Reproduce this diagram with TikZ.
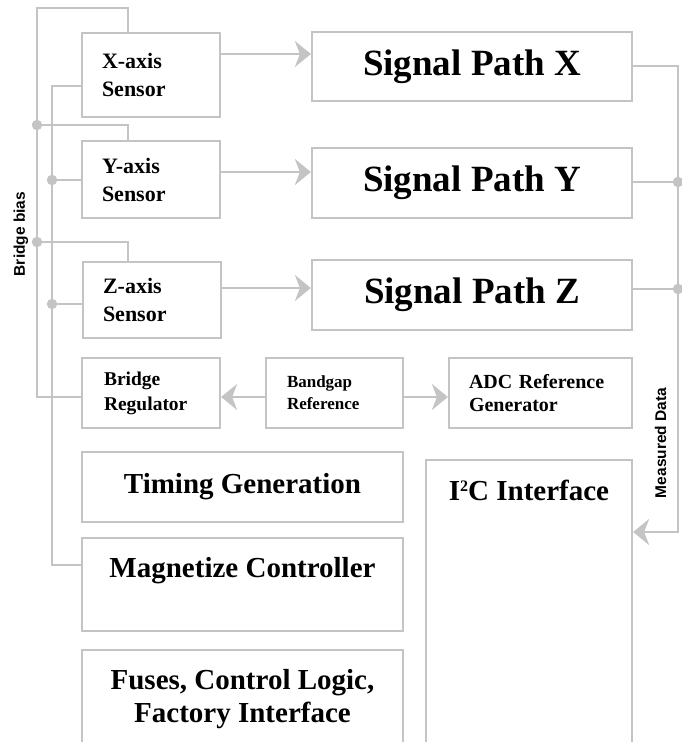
\documentclass[tikz,border=0pt]{standalone}
\usepackage{fontspec}
\setmainfont{Liberation Serif}
\newfontfamily\labelfont{Liberation Sans}
\usetikzlibrary{arrows.meta}
\definecolor{wiregray}{RGB}{196,196,196}
\begin{document}
\begin{tikzpicture}[x=1pt,y=-1pt,
  box/.style={draw=wiregray, line width=2.2pt, rectangle, inner sep=0pt, text=black},
  leftbox/.style={box, align=left},
  wire/.style={draw=wiregray, line width=2.2pt},
  flow/.style={wire, -{Stealth[length=16pt,width=26pt,inset=5pt,fill=wiregray]}},
  jdot/.style={circle, fill=wiregray, draw=none, inner sep=0pt, minimum size=10.5pt},
  sidelabel/.style={font=\labelfont\fontsize{15.5}{18}\selectfont\bfseries, rotate=90, inner sep=0pt},
  bigtext/.style={font=\fontsize{29}{33.5}\selectfont\bfseries, inner sep=0pt, align=center},
  pathtext/.style={font=\fontsize{37}{42}\selectfont\bfseries}
]
\useasboundingbox (0,0) rectangle (682,742);
\clip (0,0) rectangle (682,742);

% sensors
\node[leftbox, minimum width=138pt, minimum height=84pt, inner xsep=20pt, text width=98pt,
  font=\fontsize{22}{28}\selectfont\bfseries] (xs) at (151,75) {X-axis\\Sensor};
\node[leftbox, minimum width=138pt, minimum height=77pt, inner xsep=20pt, text width=98pt,
  font=\fontsize{22}{28}\selectfont\bfseries] (ys) at (151,179.5) {Y-axis\\Sensor};
\node[leftbox, minimum width=138pt, minimum height=76pt, inner xsep=20pt, text width=98pt,
  font=\fontsize{22}{28}\selectfont\bfseries] (zs) at (152,300) {Z-axis\\Sensor};

% signal paths
\node[box, pathtext, minimum width=320pt, minimum height=69pt] (sx) at (472,66.5) {Signal Path X};
\node[box, pathtext, minimum width=320pt, minimum height=70pt] (sy) at (472,183) {Signal Path Y};
\node[box, pathtext, minimum width=320pt, minimum height=70pt] (sz) at (472,295) {Signal Path Z};

% reference row
\node[leftbox, minimum width=138pt, minimum height=70pt, inner xsep=22pt, text width=94pt,
  font=\fontsize{19.5}{25}\selectfont\bfseries] (br) at (151,393) {Bridge\\Regulator};
\node[leftbox, minimum width=137pt, minimum height=70pt, inner xsep=21pt, text width=95pt,
  font=\fontsize{17}{22}\selectfont\bfseries] (bg) at (334.5,393) {Bandgap\\Reference};
\node[leftbox, minimum width=183pt, minimum height=70pt, inner xsep=20pt, text width=143pt,
  font=\fontsize{20}{23}\selectfont\bfseries] (adc) at (540.5,393) {ADC Reference\\Generator};

% lower blocks
\node[box, bigtext, minimum width=321pt, minimum height=70pt] (tg) at (242.5,487) {Timing Generation};
\node[box, minimum width=321pt, minimum height=93pt] (mc) at (242.5,584.5) {};
\node[box, minimum width=321pt, minimum height=120pt] (fu) at (242.5,710) {};
\node[box, minimum width=206pt, minimum height=310pt] (ic) at (529,615) {};
\node[bigtext, anchor=base] (mct) at (242.5,577) {Magnetize Controller};
\node[bigtext, anchor=north] (fut) at (242.5,669) {Fuses, Control Logic,\\Factory Interface};
\node[bigtext, anchor=base] (ict) at (529,500) {I\raisebox{9pt}{\fontsize{16}{16}\selectfont 2}C Interface};

% side labels
\node[sidelabel] (bb) at (21,234) {Bridge bias};
\node[sidelabel] (md) at (660.5,443) {Measured Data};

% corners and junctions
\coordinate (ct1) at (37,8);
\coordinate (ct2) at (128,8);
\coordinate (cbr) at (37,397);
\coordinate (cit) at (52,86);
\coordinate (cib) at (52,565);
\coordinate (crt) at (678,66);
\coordinate (crb) at (678,532);
\coordinate (rx) at (0,54);
\coordinate (ry) at (0,172);
\coordinate (rz) at (0,288);
\coordinate (jl1) at (37,125);
\coordinate (jl2) at (37,242);
\coordinate (ji1) at (52,180);
\coordinate (ji2) at (52,304);
\coordinate (jr1) at (678,182);
\coordinate (jr2) at (678,289);

% bridge bias wiring (outer)
\draw[wire] (xs.north -| ct2) -- (ct2) -- (ct1) -- (cbr) -- (br.west |- cbr);
\draw[wire] (jl1) -- (jl1 -| ct2) -- (ys.north -| ct2);
\draw[wire] (jl2) -- (jl2 -| ct2) -- (zs.north -| ct2);
% inner wiring
\draw[wire] (xs.west |- cit) -- (cit) -- (cib) -- (mc.west |- cib);
\draw[wire] (ji1) -- (ys.west |- ji1);
\draw[wire] (ji2) -- (zs.west |- ji2);

% sensor to signal path
\draw[flow] (xs.east |- rx) -- (sx.west |- rx);
\draw[flow] (ys.east |- ry) -- (sy.west |- ry);
\draw[flow] (zs.east |- rz) -- (sz.west |- rz);

% measured data
\draw[flow] (sx.east |- crt) -- (crt) -- (crb) -- (ic.east |- crb);
\draw[wire] (sy.east |- jr1) -- (jr1);
\draw[wire] (sz.east |- jr2) -- (jr2);

% bandgap outputs
\draw[flow] (bg.west |- cbr) -- (br.east |- cbr);
\draw[flow] (bg.east |- cbr) -- (adc.west |- cbr);

% junction dots
\node[jdot] (dl1) at (jl1) {};
\node[jdot] (dl2) at (jl2) {};
\node[jdot] (di1) at (ji1) {};
\node[jdot] (di2) at (ji2) {};
\node[jdot] (dr1) at (jr1) {};
\node[jdot] (dr2) at (jr2) {};
\end{tikzpicture}
\end{document}
